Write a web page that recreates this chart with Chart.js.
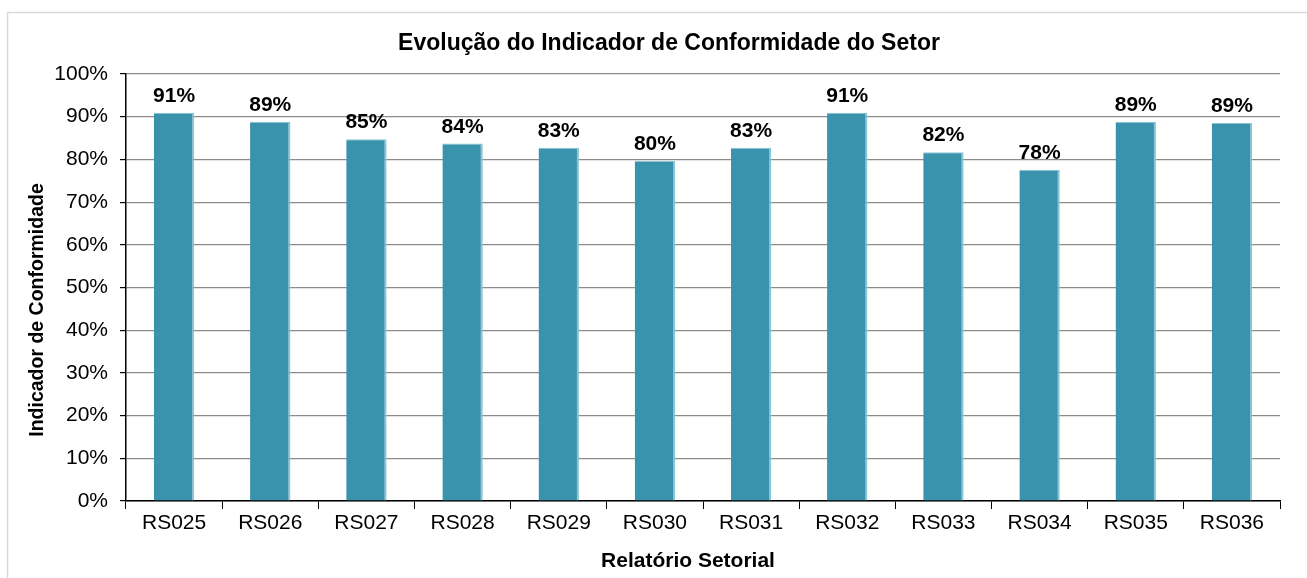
<!DOCTYPE html>
<html>
<head>
<meta charset="utf-8">
<script src="https://cdn.jsdelivr.net/npm/chart.js@4"></script>
<style>
  html, body { margin: 0; padding: 0; background: #fff; }
  #wrap { width: 1307px; height: 578px; }
</style>
</head>
<body>
<div id="wrap"><canvas id="myChart" width="1307" height="578"></canvas></div>
<script>
const categories = ['RS025', 'RS026', 'RS027', 'RS028', 'RS029', 'RS030', 'RS031', 'RS032', 'RS033', 'RS034', 'RS035', 'RS036'];
const conformidade = [90.9, 88.8, 84.7, 83.7, 82.7, 79.6, 82.7, 90.9, 81.7, 77.6, 88.8, 88.5];
const yTicks = [0, 10, 20, 30, 40, 50, 60, 70, 80, 90, 100];

const tituloGrafico = 'Evolução do Indicador de Conformidade do Setor';
const tituloX = 'Relatório Setorial';
const tituloY = 'Indicador de Conformidade';

const FONTE = '"Liberation Sans", Arial, sans-serif';
Chart.defaults.font.family = FONTE;
Chart.defaults.color = '#000';

// moldura cinza, títulos (centrados na moldura, como no Excel) e rótulos de valor
const frame = {
    id: 'frame',
    beforeDraw(chart) {
        const c = chart.ctx;
        c.save();
        c.strokeStyle = '#d9d9d9';
        c.lineWidth = 1.5;
        c.strokeRect(7.5, 12.5, 1320, 600);
        c.restore();
    },
    afterDraw(chart) {
        const c = chart.ctx;
        c.save();
        c.fillStyle = '#000';
        c.textAlign = 'center';
        c.textBaseline = 'middle';
        c.font = 'bold 23px ' + FONTE;
        c.fillText(tituloGrafico, 669, 44);
        c.font = 'bold 21px ' + FONTE;
        c.fillText(tituloX, 688, 561);
        c.translate(38, 310);
        c.rotate(-Math.PI / 2);
        c.font = 'bold 19.5px ' + FONTE;
        c.fillText(tituloY, 0, 0);
        c.restore();
    }
};
const valueLabels = {
    id: 'valueLabels',
    afterDatasetsDraw(chart) {
        const c = chart.ctx;
        const meta = chart.getDatasetMeta(0);
        c.save();
        c.font = 'bold 21px ' + FONTE;
        c.fillStyle = '#000';
        c.textAlign = 'center';
        c.textBaseline = 'alphabetic';
        meta.data.forEach((bar, i) => {
            c.fillText(Math.round(conformidade[i]) + '%', bar.x, bar.y - 11);
        });
        c.restore();
    }
};

new Chart(document.getElementById('myChart'), {
    type: 'bar',
    data: {
        labels: categories,
        datasets: [{
            data: conformidade,
            backgroundColor: '#3a93ad',
            borderColor: '#8cc4d4',
            borderWidth: { top: 1, right: 2, left: 0, bottom: 0 },
            borderSkipped: false,
            categoryPercentage: 1,
            barPercentage: 0.42
        }]
    },
    options: {
        responsive: false,
        animation: false,
        layout: { padding: { left: 0, right: 27, top: 74, bottom: 0 } },
        scales: {
            x: {
                afterFit: s => { s.height = 77; },
                grid: {
                    offset: true,
                    drawOnChartArea: false,
                    color: '#000',
                    tickLength: 8
                },
                border: { color: '#000', width: 1.5 },
                ticks: { font: { size: 21 }, color: '#000', padding: 2 }
            },
            y: {
                min: 0,
                max: 100,
                afterFit: s => { s.width = 126; },
                afterBuildTicks: s => { s.ticks = yTicks.map(v => ({ value: v })); },
                grid: { color: '#8c8c8c', tickColor: '#000', tickLength: 6, lineWidth: 1.2 },
                border: { color: '#000', width: 1.5 },
                ticks: { font: { size: 21 }, color: '#000', padding: 12, callback: v => v + '%' }
            }
        },
        plugins: {
            legend: { display: false },
            tooltip: { enabled: false },
            title: { display: false }
        }
    },
    plugins: [frame, valueLabels]
});
</script>
</body>
</html>
